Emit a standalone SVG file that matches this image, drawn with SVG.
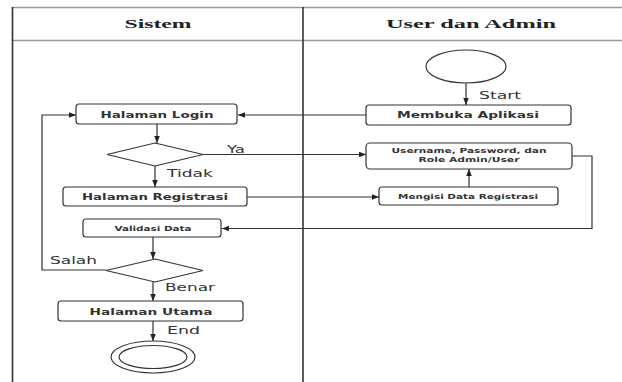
<svg xmlns="http://www.w3.org/2000/svg" width="622" height="382" viewBox="0 0 622 382">
  <style>
    .lane { stroke: #333; stroke-width: 1.6; fill: none; }
    .rule { stroke: #999; stroke-width: 1.6; fill: none; }
    .head { font-family: "Liberation Serif", serif; font-weight: bold; font-size: 12px; fill: #222; text-anchor: middle; }
    .box { fill: #fff; stroke: #333; stroke-width: 1.2; }
    .btxt { font-family: "DejaVu Sans", sans-serif; font-weight: bold; font-size: 9px; fill: #333; text-anchor: middle; }
    .stxt { font-family: "DejaVu Sans", sans-serif; font-weight: bold; font-size: 7px; fill: #333; text-anchor: middle; }
    .lbl { font-family: "DejaVu Sans", sans-serif; font-size: 10px; fill: #333; }
    .edge { stroke: #333; stroke-width: 1.2; fill: none; }
    .arr { marker-end: url(#ah); }
  </style>
  <defs>
    <marker id="ah" viewBox="0 0 10 10" refX="10" refY="5" markerWidth="7" markerHeight="7" markerUnits="userSpaceOnUse" orient="auto">
      <path d="M0,1 L10,5 L0,9 Z" fill="#222"/>
    </marker>
  </defs>
  <rect width="622" height="382" fill="#fff"/>

  <!-- swimlanes -->
  <g id="lanes">
    <line class="rule" x1="12" y1="7.5" x2="622" y2="7.5"/>
    <line class="rule" x1="12" y1="40.5" x2="622" y2="40.5"/>
    <line class="lane" x1="12.5" y1="7" x2="12.5" y2="382"/>
    <line class="lane" x1="303" y1="7" x2="303" y2="382"/>
    <text class="head" x="158" y="28" textLength="67" lengthAdjust="spacingAndGlyphs">Sistem</text>
    <text class="head" x="471" y="28" textLength="170" lengthAdjust="spacingAndGlyphs">User dan Admin</text>
  </g>

  <!-- connectors -->
  <g id="connectors">
    <line class="edge arr" x1="466" y1="83" x2="466" y2="105"/>
    <line class="edge arr" x1="366" y1="115" x2="238" y2="115"/>
    <line class="edge arr" x1="157" y1="124" x2="157" y2="143"/>
    <line class="edge arr" x1="203" y1="154.5" x2="366" y2="154.5"/>
    <line class="edge arr" x1="155" y1="166" x2="155" y2="187"/>
    <line class="edge arr" x1="247" y1="197" x2="379" y2="197"/>
    <line class="edge arr" x1="469" y1="187" x2="469" y2="169"/>
    <polyline class="edge arr" points="572,156 592,156 592,228.5 222,228.5"/>
    <line class="edge arr" x1="153" y1="237" x2="153" y2="259"/>
    <polyline class="edge arr" points="106,270 42,270 42,115 76,115"/>
    <line class="edge arr" x1="153" y1="282" x2="153" y2="301"/>
    <line class="edge arr" x1="153" y1="321" x2="153" y2="341"/>
    <text class="lbl" x="479" y="99" textLength="42" lengthAdjust="spacingAndGlyphs">Start</text>
    <text class="lbl" x="227" y="153" textLength="18" lengthAdjust="spacingAndGlyphs">Ya</text>
    <text class="lbl" x="167" y="177" textLength="46" lengthAdjust="spacingAndGlyphs">Tidak</text>
    <text class="lbl" x="50" y="264" textLength="47" lengthAdjust="spacingAndGlyphs">Salah</text>
    <text class="lbl" x="165" y="291" textLength="50" lengthAdjust="spacingAndGlyphs">Benar</text>
    <text class="lbl" x="167" y="334" textLength="33" lengthAdjust="spacingAndGlyphs">End</text>
  </g>

  <g id="start">
    <ellipse class="box" cx="466" cy="66.5" rx="40" ry="16.5"/>
  </g>
  <g id="membuka-aplikasi">
    <rect class="box" x="366" y="105" width="205" height="20" rx="3"/>
    <text class="btxt" x="468" y="118" textLength="142" lengthAdjust="spacingAndGlyphs">Membuka Aplikasi</text>
  </g>
  <g id="halaman-login">
    <rect class="box" x="76" y="104" width="161" height="20" rx="3"/>
    <text class="btxt" x="157" y="117.5" textLength="113" lengthAdjust="spacingAndGlyphs">Halaman Login</text>
  </g>
  <g id="cek-akun">
    <polygon class="box" points="155,143 203,154.5 155,166 107,154.5"/>
  </g>
  <g id="username-password">
    <rect class="box" x="366" y="143" width="206" height="26" rx="4"/>
    <text class="stxt" x="469" y="153" textLength="155" lengthAdjust="spacingAndGlyphs">Username, Password, dan</text>
    <text class="stxt" x="469" y="162" textLength="101" lengthAdjust="spacingAndGlyphs">Role Admin/User</text>
  </g>
  <g id="halaman-registrasi">
    <rect class="box" x="63" y="187" width="184" height="19" rx="3"/>
    <text class="btxt" x="155" y="199.5" textLength="146" lengthAdjust="spacingAndGlyphs">Halaman Registrasi</text>
  </g>
  <g id="mengisi-data">
    <rect class="box" x="379" y="187" width="179" height="18" rx="3"/>
    <text class="stxt" x="468" y="198.5" textLength="140" lengthAdjust="spacingAndGlyphs">Mengisi Data Registrasi</text>
  </g>
  <g id="validasi-data">
    <rect class="box" x="83" y="219" width="138" height="18" rx="3"/>
    <text class="stxt" x="153" y="230.5" textLength="77" lengthAdjust="spacingAndGlyphs">Validasi Data</text>
  </g>
  <g id="cek-validasi">
    <polygon class="box" points="155,259 203,270.5 155,282 106,270.5"/>
  </g>
  <g id="halaman-utama">
    <rect class="box" x="58" y="301" width="185" height="20" rx="3"/>
    <text class="btxt" x="151" y="314.5" textLength="123" lengthAdjust="spacingAndGlyphs">Halaman Utama</text>
  </g>
  <g id="end">
    <ellipse class="box" cx="153" cy="357" rx="42" ry="16"/>
    <ellipse class="box" cx="153" cy="357" rx="34" ry="11.5"/>
  </g>
</svg>
